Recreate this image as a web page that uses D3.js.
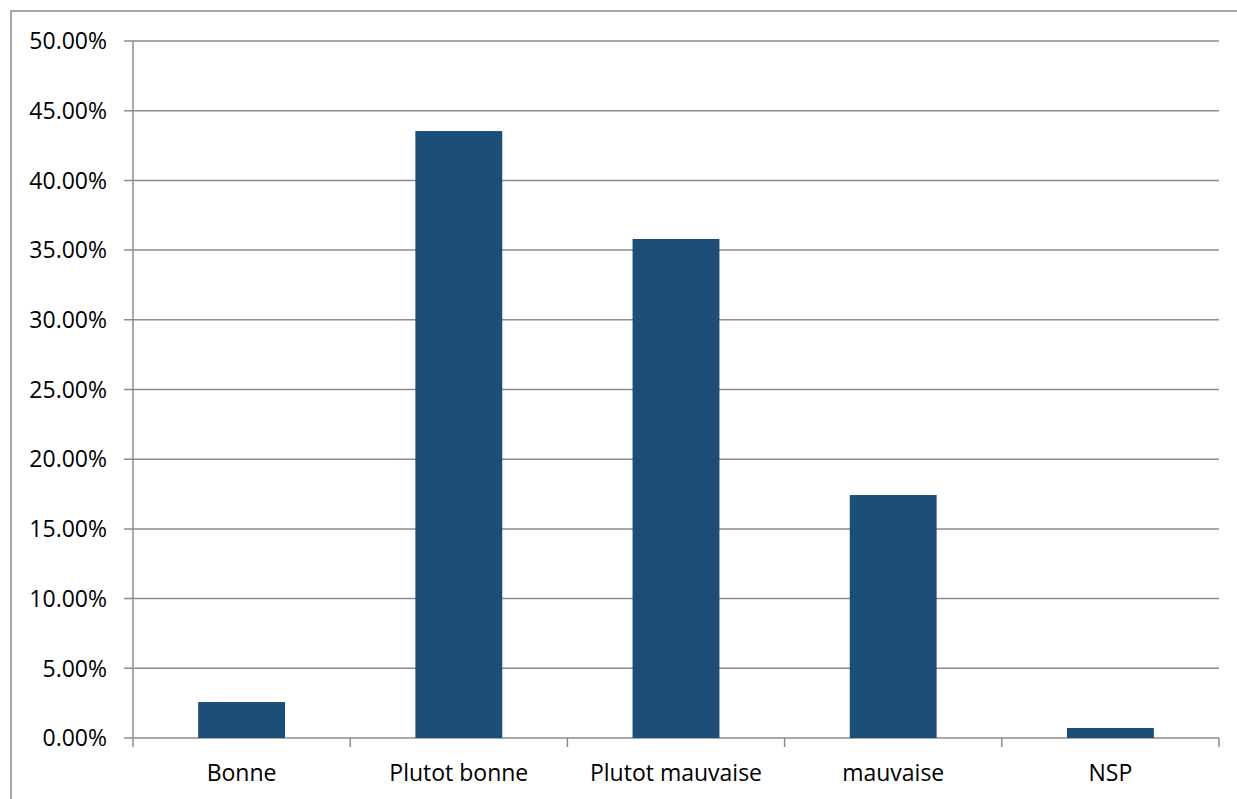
<!DOCTYPE html>
<html><head><meta charset="utf-8">
<script src="https://cdn.jsdelivr.net/npm/d3@7"></script>
<style>html,body{margin:0;padding:0;background:#fff;overflow:hidden}</style>
</head><body>
<svg id="c" width="1237" height="799"></svg>
<script>
const categories = ["Bonne", "Plutot bonne", "Plutot mauvaise", "mauvaise", "NSP"];
const values = [0.0258, 0.4354, 0.3580, 0.1743, 0.0072];
const yTicks = [0, 0.05, 0.10, 0.15, 0.20, 0.25, 0.30, 0.35, 0.40, 0.45, 0.50];

const svg = d3.select("#c");
const m = {left: 133, right: 1219, top: 41, bottom: 738};
const gridColor = "#8c8c8c";
const font = "'Open Sans', sans-serif";

// outer frame
svg.append("rect").attr("x", 11).attr("y", 11).attr("width", 1300).attr("height", 900)
  .attr("fill", "none").attr("stroke", gridColor).attr("stroke-width", 1.5);

const x = d3.scaleBand().domain(categories).range([m.left, m.right]).paddingInner(0.6).paddingOuter(0.3);
const xEdge = d3.scaleLinear().domain([0, categories.length]).range([m.left, m.right]);
const y = d3.scaleLinear().domain([0, 0.5]).range([m.bottom, m.top]);

// gridlines + y ticks
svg.append("g").selectAll("line").data(yTicks).join("line")
  .attr("x1", m.left - 9).attr("x2", m.right)
  .attr("y1", d => y(d)).attr("y2", d => y(d))
  .attr("stroke", gridColor).attr("stroke-width", 1.5);

svg.append("g").selectAll("text").data(yTicks).join("text")
  .attr("x", 107).attr("y", d => y(d)).attr("dy", "0.36em")
  .attr("text-anchor", "end").attr("font-family", font).attr("font-size", 23).attr("fill", "#000")
  .text(d => d3.format(".2%")(d));

// y axis line
svg.append("line").attr("x1", m.left).attr("x2", m.left).attr("y1", m.top).attr("y2", m.bottom + 9)
  .attr("stroke", gridColor).attr("stroke-width", 1.5);

// x tick marks
svg.append("g").selectAll("line").data(d3.range(1, categories.length + 1)).join("line")
  .attr("x1", d => xEdge(d)).attr("x2", d => xEdge(d))
  .attr("y1", m.bottom).attr("y2", m.bottom + 9)
  .attr("stroke", gridColor).attr("stroke-width", 1.5);

// bars
svg.append("g").selectAll("rect").data(values).join("rect")
  .attr("x", (d, i) => x(categories[i])).attr("width", x.bandwidth())
  .attr("y", d => y(d)).attr("height", d => m.bottom - y(d))
  .attr("fill", "#1c4e78");

// x labels
svg.append("g").selectAll("text").data(categories).join("text")
  .attr("x", d => x(d) + x.bandwidth() / 2).attr("y", 773).attr("dy", "0.36em")
  .attr("text-anchor", "middle").attr("font-family", font).attr("font-size", 23).attr("fill", "#000")
  .text(d => d);
</script>
</body></html>
